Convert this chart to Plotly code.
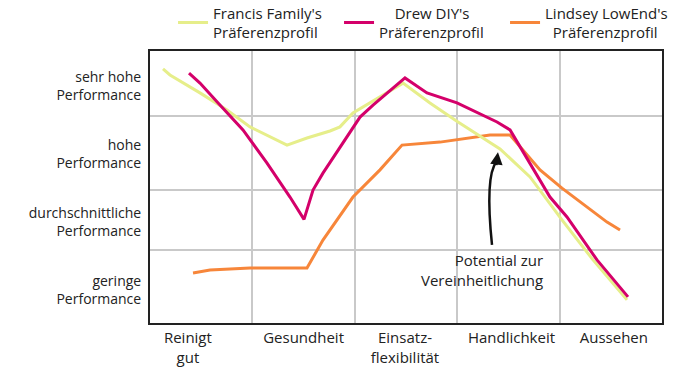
import plotly.graph_objects as go

# categories (x axis) and their label positions
categories = ["Reinigt<br>gut", "Gesundheit", "Einsatz-<br>flexibilität", "Handlichkeit", "Aussehen"]
category_pos = [0.37, 1.5, 2.49, 3.53, 4.53]

# performance levels (y axis), score 0-100
levels = ["sehr hohe<br>Performance", "hohe<br>Performance", "durchschnittliche<br>Performance", "geringe<br>Performance"]
level_pos = [87.1, 62.1, 37.1, 12.1]
level_bounds = [26.8, 48.9, 76.1]
category_bounds = [1, 2, 3, 4]

# series names
names = ["Francis Family's<br>Präferenzprofil",
         "\u00a0\u00a0\u00a0\u00a0Drew DIY's<br>Präferenzprofil",
         "Lindsey LowEnd's<br>\u00a0\u00a0Präferenzprofil"]

# Francis Family's profile
francis_x = [0.127, 0.195, 0.488, 0.752, 0.977, 1.338, 1.533, 1.758, 1.855, 1.982, 2.471, 2.734, 3.008, 3.418, 3.711, 4.023, 4.326, 4.658]
francis_y = [93.4, 91.2, 84.6, 78.3, 72.1, 65.4, 68.0, 70.6, 72.1, 77.2, 88.2, 80.9, 73.9, 64.0, 53.7, 37.9, 23.2, 8.5]

# Drew DIY's profile
drew_x = [0.381, 0.488, 0.654, 0.908, 1.143, 1.367, 1.504, 1.592, 1.689, 1.885, 2.051, 2.178, 2.490, 2.705, 2.998, 3.389, 3.516, 3.906, 4.072, 4.365, 4.668]
drew_y = [91.9, 88.2, 81.3, 71.0, 58.8, 46.3, 38.1, 48.9, 55.1, 66.2, 75.7, 80.1, 90.1, 84.6, 80.9, 73.9, 71.0, 46.3, 39.0, 23.2, 9.6]

# Lindsey LowEnd's profile
lindsey_x = [0.420, 0.586, 0.977, 1.533, 1.689, 1.982, 2.246, 2.461, 2.832, 3.320, 3.516, 3.809, 4.023, 4.463, 4.590]
lindsey_y = [18.4, 19.5, 20.2, 20.2, 30.5, 46.3, 56.3, 65.4, 66.5, 69.1, 69.1, 56.3, 49.6, 37.1, 34.2]

FONT = "Open Sans"
fig = go.Figure()
fig.add_trace(go.Scatter(x=lindsey_x, y=lindsey_y, mode="lines", name=names[2],
                         line=dict(color="#f7863a", width=3), legendrank=3))
fig.add_trace(go.Scatter(x=francis_x, y=francis_y, mode="lines", name=names[0],
                         line=dict(color="#e6ee8a", width=3), legendrank=1))
fig.add_trace(go.Scatter(x=drew_x, y=drew_y, mode="lines", name=names[1],
                         line=dict(color="#d4006a", width=3), legendrank=2))

# curved arrow
fig.add_shape(type="path", xref="x", yref="y", path="M 3.340,28.7 Q 3.27,54.0 3.385,59.5",
              line=dict(color="#111", width=2.5))
fig.add_annotation(x=3.398, y=62.8, ax=3.380, ay=57.5, xref="x", yref="y", axref="x", ayref="y",
                   showarrow=True, arrowhead=2, arrowsize=1, arrowwidth=2.5, arrowcolor="#111", text="")
fig.add_annotation(x=3.857, y=19.5, xref="x", yref="y", text="Potential zur<br>Vereinheitlichung",
                   showarrow=False, xanchor="right", align="right", font=dict(size=15, color="#222", family=FONT))

fig.update_layout(
    width=700, height=374,
    margin=dict(l=150, r=38, t=51, b=51, autoexpand=False),
    paper_bgcolor="white", plot_bgcolor="white",
    font=dict(family=FONT, size=14, color="#222"),
    showlegend=True,
    legend=dict(orientation="h", x=0.045, xanchor="left", y=1.105, yanchor="middle",
                entrywidth=121, font=dict(size=15, color="#222"), bgcolor="rgba(0,0,0,0)",
                traceorder="normal"),
)
fig.update_xaxes(range=[0, 5], tickvals=category_pos, ticktext=categories, showgrid=False,
                 zeroline=False, showline=True, mirror=True, linecolor="#222", linewidth=2,
                 ticks="", ticklabelstandoff=0, tickfont=dict(size=15),
                 minor=dict(tickvals=category_bounds, showgrid=True, gridcolor="#c9c9c9", gridwidth=1.5, ticks=""))
fig.update_yaxes(range=[0, 100], tickvals=level_pos, ticktext=levels, showgrid=False,
                 zeroline=False, showline=True, mirror=True, linecolor="#222", linewidth=2,
                 ticks="", ticklabelstandoff=4,
                 minor=dict(tickvals=level_bounds, showgrid=True, gridcolor="#c9c9c9", gridwidth=1.5, ticks=""))

fig.write_html("out.html", config={"displayModeBar": False},
               post_script="document.body.style.margin='0px';")
